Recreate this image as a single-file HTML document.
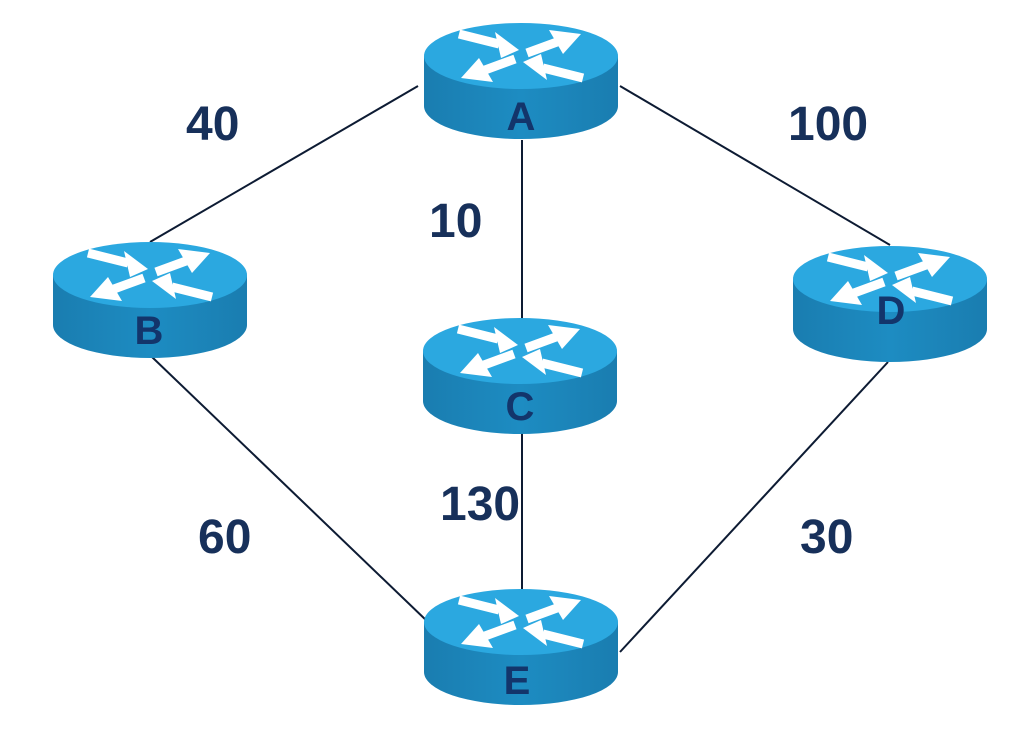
<!DOCTYPE html>
<html><head><meta charset="utf-8"><style>
html,body{margin:0;padding:0;background:#fff;}
svg{display:block;}
.w{font-family:"Liberation Sans",sans-serif;font-weight:bold;font-size:48px;fill:#17305a;}
.l{font-family:"Liberation Sans",sans-serif;font-weight:bold;font-size:40px;fill:#13356b;text-anchor:middle;}
</style></head><body>
<svg width="1012" height="742" viewBox="0 0 1012 742" xmlns="http://www.w3.org/2000/svg">
<defs>
<linearGradient id="side" x1="0" x2="1" y1="0" y2="0">
<stop offset="0" stop-color="#1a7db0"/><stop offset="0.5" stop-color="#1d8cc2"/><stop offset="1" stop-color="#1a7db0"/>
</linearGradient>
<g id="r">
<path d="M-97,0 L-97,50 A97,33 0 0 0 97,50 L97,0 Z" fill="url(#side)"/>
<ellipse cx="0" cy="0" rx="97" ry="33" fill="#2ba8e0"/>
<g stroke="#fff" stroke-width="9" fill="none">
<line x1="-62" y1="-22" x2="-22" y2="-12"/>
<line x1="6" y1="-3" x2="36" y2="-14"/>
<line x1="-6" y1="3" x2="-36" y2="14"/>
<line x1="62" y1="22" x2="22" y2="12"/>
</g>
<g fill="#fff">
<polygon points="-2,-6 -26,-24 -20,2"/>
<polygon points="60,-22 28,-26 42,-2"/>
<polygon points="-60,22 -28,26 -42,2"/>
<polygon points="2,6 26,24 20,-2"/>
</g>
</g>
</defs>
<g stroke="#0d1b33" stroke-width="2" fill="none">
<line x1="418" y1="86" x2="150" y2="242"/>
<line x1="620" y1="86" x2="890" y2="245"/>
<line x1="522" y1="140" x2="522" y2="320"/>
<line x1="152" y1="357" x2="428" y2="622"/>
<line x1="522" y1="433" x2="522" y2="592"/>
<line x1="888" y1="362" x2="620" y2="652"/>
</g>
<use href="#r" x="521" y="56"/>
<use href="#r" x="150" y="275"/>
<use href="#r" x="520" y="351"/>
<use href="#r" x="890" y="279"/>
<use href="#r" x="521" y="622"/>
<text class="l" x="521" y="130">A</text>
<text class="l" x="149" y="344">B</text>
<text class="l" x="520" y="420">C</text>
<text class="l" x="891" y="324">D</text>
<text class="l" x="517" y="694">E</text>
<text class="w" x="186" y="140">40</text>
<text class="w" x="788" y="140">100</text>
<text class="w" x="429" y="237">10</text>
<text class="w" x="440" y="520">130</text>
<text class="w" x="198" y="553">60</text>
<text class="w" x="800" y="553">30</text>
</svg>
</body></html>
